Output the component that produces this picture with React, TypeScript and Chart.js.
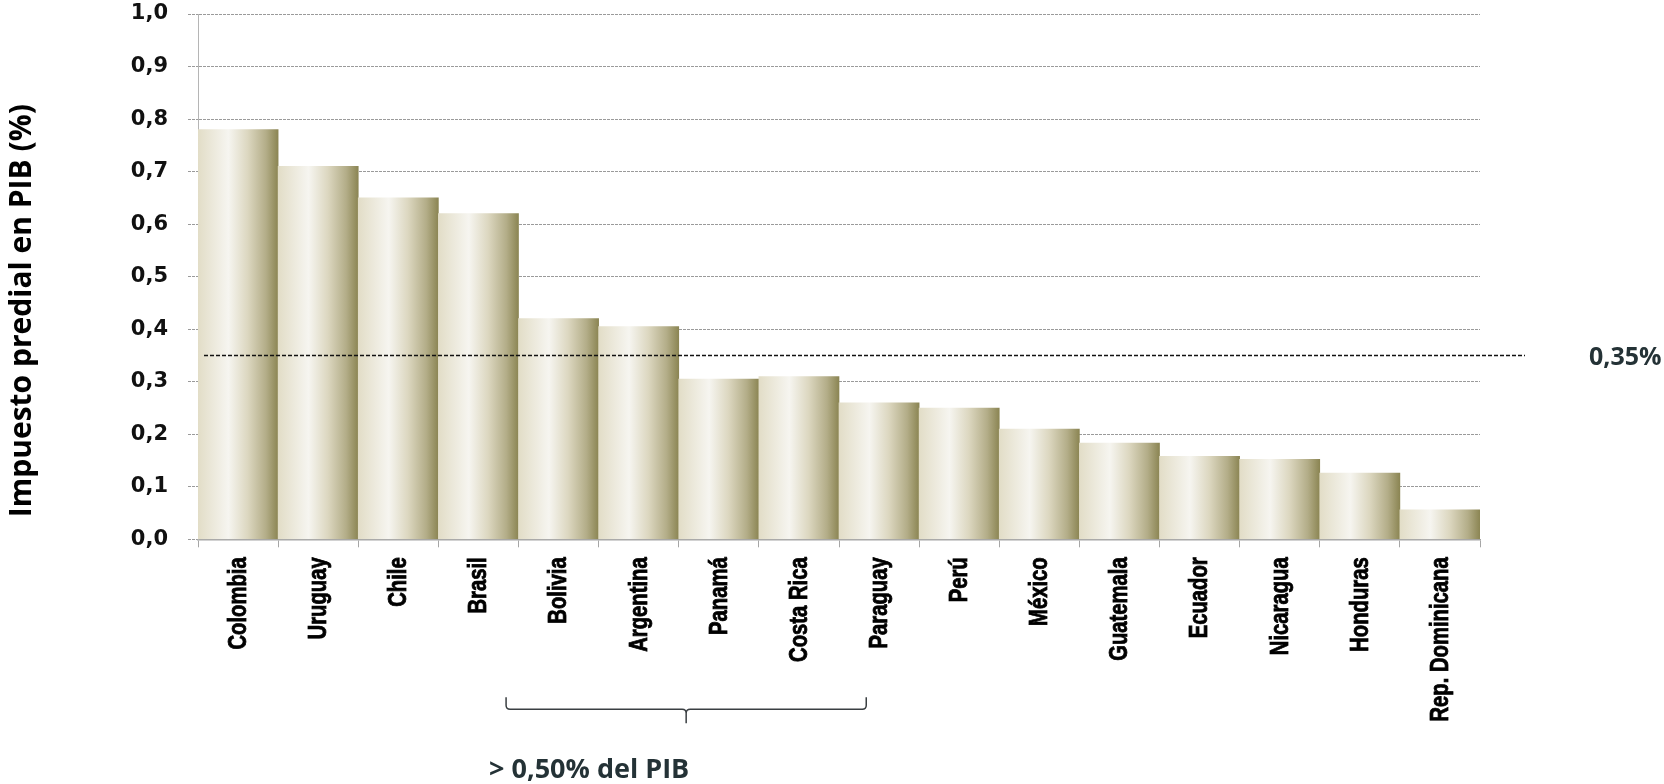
import React, { useEffect, useRef } from "react";
import { Chart, registerables } from "chart.js";

Chart.register(...registerables);

const countries = [
  "Colombia", "Uruguay", "Chile", "Brasil", "Bolivia", "Argentina", "Panamá", "Costa Rica",
  "Paraguay", "Perú", "México", "Guatemala", "Ecuador", "Nicaragua", "Honduras", "Rep. Dominicana",
];
const values = [0.78, 0.71, 0.65, 0.62, 0.42, 0.405, 0.305, 0.31, 0.26, 0.25, 0.21, 0.183, 0.158, 0.152, 0.126, 0.056];
const threshold = 0.35;
const thresholdLabel = "0,35%";
const bracketLabel = "> 0,50% del PIB";
const bracketFrom = 3.345;
const bracketTo = 7.84;
const yTitle = "Impuesto predial en PIB (%)";

const W = 1664;
const H = 784;

const annotations = {
  id: "annotations",
  afterDraw(chart: any) {
    const { ctx, chartArea, scales } = chart;
    const x = scales.x;
    const y = scales.y;
    const yy = y.getPixelForValue(threshold);
    ctx.save();
    // threshold line
    ctx.setLineDash([4, 2]);
    ctx.strokeStyle = "#111";
    ctx.lineWidth = 1.5;
    ctx.beginPath();
    ctx.moveTo(chartArea.left + 6, yy);
    ctx.lineTo(chartArea.right + 45, yy);
    ctx.stroke();
    ctx.setLineDash([]);
    ctx.fillStyle = "#243236";
    ctx.font = "bold 25px 'Open Sans'";
    ctx.textAlign = "left";
    ctx.textBaseline = "middle";
    ctx.fillText(thresholdLabel, chartArea.right + 109, yy + 2);

    // category labels (condensed bold, rotated)
    ctx.fillStyle = "#000";
    ctx.strokeStyle = "#000";
    ctx.lineWidth = 0.8;
    ctx.font = "bold 25px 'Liberation Sans', Arial, sans-serif";
    ctx.textAlign = "right";
    ctx.textBaseline = "middle";
    countries.forEach((name, i) => {
      const cx = x.getPixelForValue(i) + 1;
      ctx.save();
      ctx.translate(cx, chartArea.bottom + 18);
      ctx.rotate(-Math.PI / 2);
      ctx.scale(0.81, 1);
      ctx.fillText(name, 0, 0);
      ctx.strokeText(name, 0, 0);
      ctx.restore();
    });

    // bracket
    const L = x.getPixelForValue(bracketFrom);
    const R = x.getPixelForValue(bracketTo);
    const M = (L + R) / 2;
    const b = chartArea.bottom;
    const top = b + 158;
    const mid = b + 170;
    const tip = b + 184;
    ctx.strokeStyle = "#3a3f42";
    ctx.lineWidth = 1.5;
    ctx.beginPath();
    ctx.moveTo(L, top);
    ctx.lineTo(L, mid - 4);
    ctx.quadraticCurveTo(L, mid, L + 4, mid);
    ctx.lineTo(M - 4, mid);
    ctx.quadraticCurveTo(M, mid, M, mid + 4);
    ctx.lineTo(M, tip);
    ctx.moveTo(M, mid + 4);
    ctx.quadraticCurveTo(M, mid, M + 4, mid);
    ctx.lineTo(R - 4, mid);
    ctx.quadraticCurveTo(R, mid, R, mid - 4);
    ctx.lineTo(R, top);
    ctx.stroke();
    ctx.fillStyle = "#243236";
    ctx.font = "bold 27px 'Open Sans'";
    ctx.textAlign = "left";
    ctx.textBaseline = "alphabetic";
    ctx.fillText(bracketLabel, L - 17, b + 239);

    // y title
    ctx.translate(22, (chartArea.top + chartArea.bottom) / 2 + 34);
    ctx.rotate(-Math.PI / 2);
    ctx.textAlign = "center";
    ctx.textBaseline = "middle";
    ctx.fillStyle = "#000";
    ctx.font = "bold 30px 'Open Sans'";
    ctx.fillText(yTitle, 0, 0);
    ctx.restore();
  },
};

function barGradient(context: any) {
  const chart = context.chart;
  const xs = chart.scales && chart.scales.x;
  if (!xs || context.type !== "data" || !chart.chartArea) return "#e0dcc6";
  const c = xs.getPixelForValue(context.dataIndex);
  const w = xs.width / countries.length;
  const g = chart.ctx.createLinearGradient(c - w / 2, 0, c + w / 2, 0);
  g.addColorStop(0, "#e2ddc7");
  g.addColorStop(0.38, "#f6f5f0");
  g.addColorStop(0.62, "#dcd7c0");
  g.addColorStop(0.85, "#b3ad88");
  g.addColorStop(1, "#8b8553");
  return g;
}

export default function App() {
  const ref = useRef<HTMLCanvasElement>(null);
  useEffect(() => {
    if (!ref.current) return;
    const chart = new Chart(ref.current, {
      type: "bar",
      data: {
        labels: countries,
        datasets: [
          {
            data: values,
            backgroundColor: barGradient,
            borderWidth: 0,
            barPercentage: 1,
            categoryPercentage: 1,
          },
        ],
      },
      options: {
        responsive: false,
        animation: false,
        layout: { padding: { left: 0, right: 184, top: 14, bottom: 0 } },
        plugins: { legend: { display: false }, tooltip: { enabled: false }, title: { display: false } },
        scales: {
          x: {
            grid: { offset: true, drawOnChartArea: false, drawTicks: true, tickLength: 8, color: "#a6a6a6" },
            border: { display: true, color: "#a6a6a6", width: 1.5 },
            ticks: { display: false, autoSkip: false },
            afterFit: (s: any) => {
              s.height = 244.7;
              s.paddingLeft = 0;
              s.paddingRight = 0;
            },
          },
          y: {
            min: 0,
            max: 1,
            ticks: {
              stepSize: 0.1,
              padding: 20,
              color: "#111",
              font: { family: "'DejaVu Sans'", weight: "bold", size: 21 },
              callback: (v: any) => Number(v).toFixed(1).replace(".", ","),
            },
            grid: { color: "#9a9a9a", lineWidth: 1, tickLength: 10, tickBorderDash: [3, 1] },
            border: { display: true, color: "#b5b5b5", width: 1, dash: [3, 1] },
            afterFit: (s: any) => {
              s.width = 198;
              s.paddingTop = 0;
              s.paddingBottom = 0;
            },
          },
        },
      },
      plugins: [annotations],
    });
    return () => chart.destroy();
  }, []);
  return (
    <div style={{ position: "fixed", left: 0, top: 0, width: W, height: H, background: "#fff" }}>
      <canvas ref={ref} width={W} height={H} style={{ width: W, height: H, display: "block" }} />
    </div>
  );
}
